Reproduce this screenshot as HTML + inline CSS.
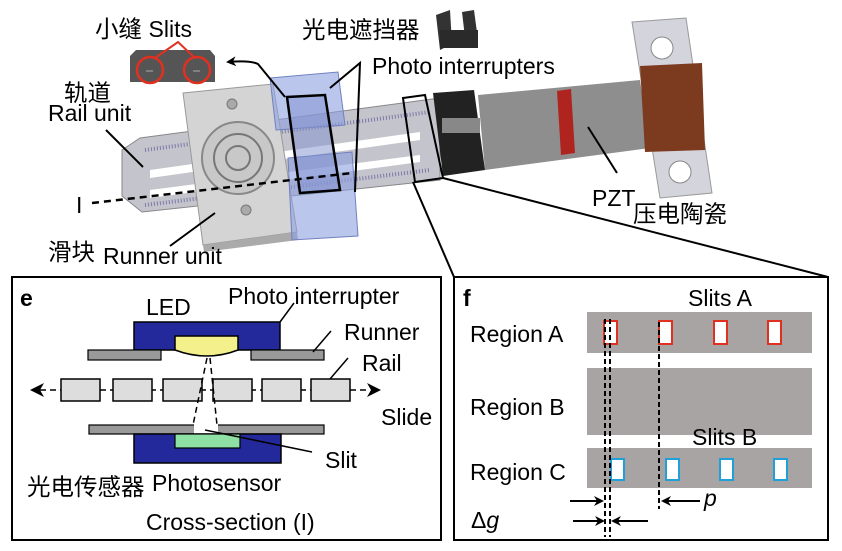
<!DOCTYPE html>
<html><head><meta charset="utf-8"><style>
html,body{margin:0;padding:0;background:#fff;width:842px;height:551px;overflow:hidden}
svg{display:block}
text{font-family:"Liberation Sans","Noto Sans CJK SC",sans-serif;fill:#000;font-size:23px}
.c{font-size:23.5px}
</style></head><body>
<svg width="842" height="551" viewBox="0 0 842 551" xmlns="http://www.w3.org/2000/svg">
<defs>
<marker id="ah" markerWidth="10" markerHeight="10" refX="8" refY="5" orient="auto" markerUnits="userSpaceOnUse"><path d="M0,0 L10,5 L0,10 L3,5 z" fill="#000"/></marker>
</defs>
<!-- TOP: rail -->
<polygon points="122,150 140,138 440,98 440,180 142,212 122,196" fill="#c4c4cc" stroke="#888" stroke-width="1"/>
<polygon points="150,170 420,132 420,140 150,178" fill="#fff"/>
<polygon points="150,190 420,155 420,162 150,198" fill="#fff"/>
<g stroke="#7a7aa8" stroke-width="1">
<path d="M145,150 L430,112 M145,205 L430,170" stroke-dasharray="1,2" stroke-width="4"/>
</g>
<!-- runner -->
<polygon points="183,93 273,84 297,232 203,245" fill="#d4d4d4" stroke="#999"/>
<polygon points="203,245 297,232 298,240 204,252" fill="#aaa"/>
<circle cx="238" cy="158" r="36" fill="#c8c8c8" stroke="#888" stroke-width="2"/>
<circle cx="238" cy="158" r="24" fill="none" stroke="#777" stroke-width="2"/>
<circle cx="238" cy="158" r="12" fill="none" stroke="#777" stroke-width="2"/>
<circle cx="232" cy="104" r="5" fill="#aaa" stroke="#777"/>
<circle cx="246" cy="210" r="5" fill="#aaa" stroke="#777"/>
<!-- blue interrupters -->
<polygon points="270,78 338,72 345,125 276,130" fill="#8ea0e0" fill-opacity="0.6" stroke="#7080c0"/>
<polygon points="288,158 352,152 358,236 292,240" fill="#8ea0e0" fill-opacity="0.6" stroke="#7080c0"/>
<polygon points="287,97 325,95 340,190 300,193" fill="#8090d0" fill-opacity="0.5" stroke="#000" stroke-width="2.5"/>
<!-- dashed I -->
<line x1="92" y1="203" x2="352" y2="173" stroke="#000" stroke-width="2.5" stroke-dasharray="7,5"/>
<text x="76" y="213">I</text>
<!-- slit piece -->
<polygon points="130,56 136,50 210,50 215,56 215,82 130,82" fill="#555"/>
<circle cx="150" cy="70" r="13" fill="none" stroke="#e03020" stroke-width="2.5"/>
<circle cx="197" cy="70" r="13" fill="none" stroke="#e03020" stroke-width="2.5"/>
<line x1="146" y1="71" x2="153" y2="71" stroke="#aaa"/><line x1="193" y1="71" x2="200" y2="71" stroke="#aaa"/>
<polyline points="155,58 178,42 195,58" fill="none" stroke="#e03020" stroke-width="2"/>
<text x="95" y="37" class="c">小缝 <tspan style="font-size:23px">Slits</tspan></text>
<path d="M285,97 L258,64 Q250,60 228,62" fill="none" stroke="#000" stroke-width="2" marker-end="url(#ah)"/>
<!-- labels left -->
<text x="64" y="101" class="c">轨道</text>
<text x="48" y="121">Rail unit</text>
<line x1="106" y1="130" x2="143" y2="167" stroke="#000" stroke-width="2"/>
<text x="48" y="260" class="c">滑块</text>
<text x="103" y="264">Runner unit</text>
<line x1="170" y1="246" x2="215" y2="213" stroke="#000" stroke-width="2"/>
<text x="302" y="38" class="c">光电遮挡器</text>
<text x="372" y="74">Photo interrupters</text>
<polyline points="330,88 360,63 355,192" fill="none" stroke="#000" stroke-width="2"/>
<!-- device icon -->
<polygon points="436,15 450,10 452,44 440,50" fill="#333"/>
<polygon points="462,12 474,10 478,40 466,46" fill="#333"/>
<rect x="440" y="30" width="38" height="18" fill="#2a2a2a"/>
<!-- clamp & PZT -->
<polygon points="478,95 640,80 650,148 485,170" fill="#8e8e8e"/>
<polygon points="557,91 571,89 575,153 561,155" fill="#b02420"/>
<polygon points="433,93 474,90 485,170 443,176" fill="#222"/>
<rect x="442" y="118" width="38" height="15" fill="#888"/>
<!-- bracket -->
<polygon points="632,22 686,18 712,193 660,198" fill="#d4d4dc" stroke="#999"/>
<polygon points="640,66 702,63 705,150 645,152" fill="#7c3a1e"/>
<circle cx="662" cy="48" r="11" fill="#fff" stroke="#888"/>
<circle cx="680" cy="172" r="11" fill="#fff" stroke="#888"/>
<!-- zoom box -->
<polygon points="403,98 425,95 443,178 415,182" fill="none" stroke="#000" stroke-width="2"/>
<line x1="413" y1="182" x2="454" y2="277" stroke="#000" stroke-width="2"/>
<line x1="443" y1="178" x2="828" y2="277" stroke="#000" stroke-width="2"/>
<text x="592" y="206">PZT</text>
<text x="633" y="222" class="c">压电陶瓷</text>
<line x1="588" y1="127" x2="617" y2="173" stroke="#000" stroke-width="2"/>

<!-- PANEL E -->
<rect x="12" y="277" width="429" height="263" fill="#fff" stroke="#000" stroke-width="2"/>
<text x="20" y="306" font-size="21" font-weight="bold">e</text>
<text x="146" y="315">LED</text>
<text x="228" y="304">Photo interrupter</text>
<line x1="280" y1="322" x2="294" y2="303" stroke="#000" stroke-width="1.5"/>
<rect x="134" y="322" width="146" height="28" fill="#23289a" stroke="#000" stroke-width="1.5"/>
<path d="M175,336 L238,336 L238,350 Q207,362 175,350 Z" fill="#f4f08c" stroke="#000" stroke-width="1.5"/>
<rect x="88" y="350" width="73" height="10" fill="#999" stroke="#000" stroke-width="1.2"/>
<rect x="251" y="350" width="73" height="10" fill="#999" stroke="#000" stroke-width="1.2"/>
<text x="344" y="340">Runner</text>
<line x1="313" y1="352" x2="331" y2="331" stroke="#000" stroke-width="1.5"/>
<text x="362" y="371">Rail</text>
<line x1="330" y1="379" x2="348" y2="358" stroke="#000" stroke-width="1.5"/>
<line x1="40" y1="390" x2="370" y2="390" stroke="#000" stroke-width="1.5" stroke-dasharray="6,4"/>
<path d="M30,390 L44,383 L40,390 L44,397 Z" fill="#000"/>
<path d="M381,390 L367,383 L371,390 L367,397 Z" fill="#000"/>
<g fill="#ddd" stroke="#000" stroke-width="1.5">
<rect x="61" y="379" width="39" height="22"/><rect x="113" y="379" width="39" height="22"/>
<rect x="163" y="379" width="39" height="22"/><rect x="213" y="379" width="39" height="22"/>
<rect x="262" y="379" width="39" height="22"/><rect x="311" y="379" width="39" height="22"/>
</g>
<text x="381" y="425">Slide</text>
<rect x="89" y="425" width="235" height="9" fill="#999" stroke="#000" stroke-width="1.2"/>
<rect x="194" y="422" width="24" height="13" fill="#fff"/>
<line x1="207" y1="358" x2="193" y2="425" stroke="#000" stroke-width="1.5" stroke-dasharray="6,4"/>
<line x1="210" y1="358" x2="217" y2="425" stroke="#000" stroke-width="1.5" stroke-dasharray="6,4"/>
<rect x="134" y="434" width="147" height="29" fill="#23289a" stroke="#000" stroke-width="1.5"/>
<rect x="175" y="434" width="65" height="14" fill="#8ee0a4" stroke="#000" stroke-width="1.2"/>
<line x1="205" y1="430" x2="312" y2="452" stroke="#000" stroke-width="1.5"/>
<text x="325" y="468">Slit</text>
<text x="27" y="495" class="c">光电传感器</text>
<text x="152" y="491">Photosensor</text>
<text x="146" y="530">Cross-section (I)</text>

<!-- PANEL F -->
<rect x="454" y="277" width="374" height="263" fill="#fff" stroke="#000" stroke-width="2"/>
<text x="463" y="306" font-size="21" font-weight="bold">f</text>
<text x="688" y="306">Slits A</text>
<rect x="587" y="312" width="225" height="41" fill="#a8a4a4"/>
<rect x="587" y="368" width="225" height="67" fill="#a8a4a4"/>
<rect x="587" y="448" width="225" height="40" fill="#a8a4a4"/>
<g fill="#fff" stroke="#e03020" stroke-width="2">
<rect x="604" y="321" width="13" height="23"/><rect x="659" y="321" width="13" height="23"/>
<rect x="714" y="321" width="13" height="23"/><rect x="768" y="321" width="13" height="23"/>
</g>
<g fill="#fff" stroke="#20a0d8" stroke-width="2">
<rect x="611" y="459" width="13" height="21"/><rect x="666" y="459" width="13" height="21"/>
<rect x="720" y="459" width="13" height="21"/><rect x="774" y="459" width="13" height="21"/>
</g>
<text x="692" y="445">Slits B</text>
<text x="470" y="342">Region A</text>
<text x="470" y="415">Region B</text>
<text x="470" y="480">Region C</text>
<g stroke="#000" stroke-width="2" stroke-dasharray="5,3">
<line x1="605" y1="319" x2="605" y2="537"/><line x1="610" y1="319" x2="610" y2="537"/>
<line x1="659" y1="322" x2="659" y2="509"/>
</g>
<line x1="570" y1="501" x2="602" y2="501" stroke="#000" stroke-width="2" marker-end="url(#ah)"/>
<line x1="700" y1="501" x2="663" y2="501" stroke="#000" stroke-width="2" marker-end="url(#ah)"/>
<text x="704" y="506" font-style="italic">p</text>
<line x1="573" y1="521" x2="603" y2="521" stroke="#000" stroke-width="2" marker-end="url(#ah)"/>
<line x1="648" y1="521" x2="613" y2="521" stroke="#000" stroke-width="2" marker-end="url(#ah)"/>
<text x="471" y="528">Δ<tspan font-style="italic">g</tspan></text>
</svg>
</body></html>
